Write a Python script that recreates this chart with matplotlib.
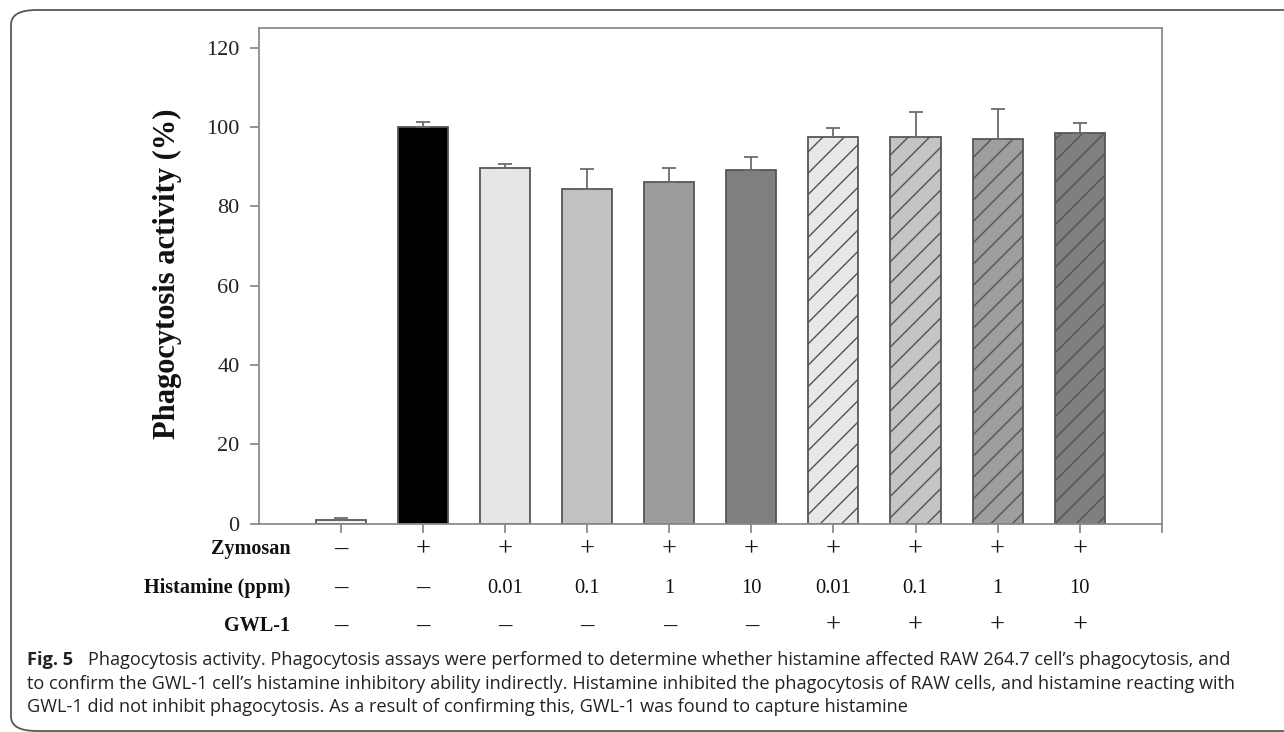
import matplotlib
matplotlib.use("Agg")
import matplotlib.pyplot as plt
from matplotlib.patches import FancyBboxPatch

# bar heights and upper error bars (%)
values = [1.0, 100.0, 89.8, 84.5, 86.1, 89.3, 97.6, 97.6, 97.1, 98.5]
errors = [0.5, 1.3, 1.0, 5.0, 3.7, 3.2, 2.1, 6.3, 7.5, 2.6]

# treatment table under the bars
zymosan = ["\u2013", "+", "+", "+", "+", "+", "+", "+", "+", "+"]
histamine = ["\u2013", "\u2013", "0.01", "0.1", "1", "10", "0.01", "0.1", "1", "10"]
gwl = ["\u2013"] * 6 + ["+"] * 4
row_names = ["Zymosan", "Histamine (ppm)", "GWL-1"]

bar_colors = ["#f2f2f2", "#000000", "#e6e6e6", "#c0c1c0", "#9b9c9b", "#7f7f7f",
              "#e8e8e8", "#c3c4c3", "#9d9e9d", "#7f7f7f"]
hatches = [""] * 6 + ["//"] * 4

caption = [
    "Phagocytosis activity. Phagocytosis assays were performed to determine whether histamine affected RAW 264.7 cell\u2019s phagocytosis, and",
    "to confirm the GWL-1 cell\u2019s histamine inhibitory ability indirectly. Histamine inhibited the phagocytosis of RAW cells, and histamine reacting with",
    "GWL-1 did not inhibit phagocytosis. As a result of confirming this, GWL-1 was found to capture histamine",
]

W, H, DPI = 1284, 732, 128
plt.rcParams["hatch.linewidth"] = 0.8
serif = "Liberation Serif"

fig = plt.figure(figsize=(W / DPI, H / DPI), dpi=DPI)

# rounded panel border (top and left visible)
border = FancyBboxPatch((11 / W, 1 - 731 / H), 1.2, (731 - 10) / H,
                        boxstyle="round,pad=0,rounding_size=0.02",
                        transform=fig.transFigure, fill=False,
                        edgecolor="#555555", linewidth=1.0, clip_on=False)
fig.patches.append(border)

ax = fig.add_axes([259 / W, 1 - 523.7 / H, (1161.7 - 259) / W, (523.7 - 28) / H])

x = list(range(len(values)))
ax.bar(x, values, width=0.61, color=bar_colors, edgecolor="#555555",
       linewidth=1.0, hatch=hatches, zorder=2)
ax.errorbar(x, values, yerr=[[0] * len(errors), errors], fmt="none",
            ecolor="#6a6a6a", elinewidth=1.0, capsize=4, capthick=1.0, zorder=3)

ax.set_xlim(-1, 10)
ax.set_ylim(0, 125)
ax.set_yticks(range(0, 121, 20))
ax.set_xticks(range(0, 11))
ax.set_xticklabels([])

for sp in ax.spines.values():
    sp.set_color("#8a8a8a")
    sp.set_linewidth(1.0)
ax.tick_params(axis="both", colors="#8a8a8a", length=5, width=1.0)
ax.tick_params(axis="y", labelcolor="#222222", labelsize=12.5, pad=6)
for lab in ax.get_yticklabels():
    lab.set_family(serif)

ax.set_ylabel("Phagocytosis activity (%)", family=serif, fontweight="bold",
              fontsize=17.2, color="#111111")
ax.yaxis.set_label_coords(-0.085, 0.505)

# treatment rows
tr = ax.get_xaxis_transform()
rows = [zymosan, histamine, gwl]
row_y = [-0.052, -0.13, -0.207]
for name, vals, yy in zip(row_names, rows, row_y):
    ax.text(-0.62, yy, name, transform=tr, ha="right", va="center",
            family=serif, fontweight="bold", fontsize=11.3, color="#111111")
    for xi, v in zip(x, vals):
        size = 15 if v in ("+", "\u2013") else 11.5
        ax.text(xi, yy, v, transform=tr, ha="center", va="center",
                family=serif, fontsize=size, color="#111111")

# caption
cap_y = [660, 684, 707]
cap_size = 10.2
fig.text(27 / W, 1 - cap_y[0] / H, "Fig. 5", family="Open Sans", fontweight="bold",
         fontsize=cap_size, color="#222222", va="center", ha="left")
fig.text(88 / W, 1 - cap_y[0] / H, caption[0], family="Open Sans",
         fontsize=cap_size, color="#222222", va="center", ha="left")
for line, yy in zip(caption[1:], cap_y[1:]):
    fig.text(27 / W, 1 - yy / H, line, family="Open Sans",
             fontsize=cap_size, color="#222222", va="center", ha="left")

fig.savefig("out.png", dpi=DPI)
